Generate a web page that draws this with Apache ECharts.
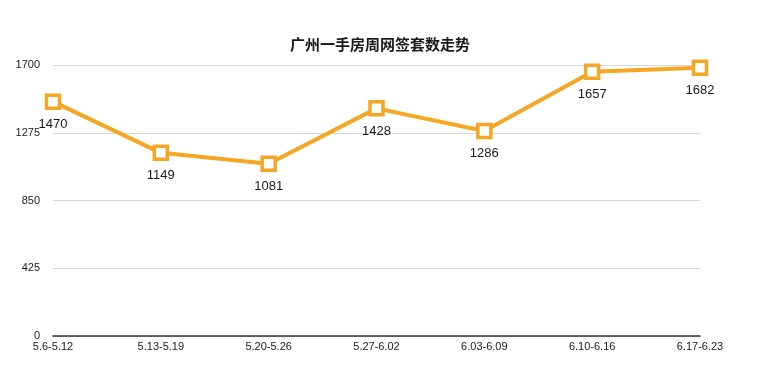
<!DOCTYPE html>
<html><head><meta charset="utf-8">
<script src="https://cdn.jsdelivr.net/npm/echarts@6/dist/echarts.min.js"></script>
<style>html,body{margin:0;padding:0;background:#fff}#c{width:768px;height:392px}</style>
</head><body><div id="c"></div>
<script>
const categories = ['5.6-5.12','5.13-5.19','5.20-5.26','5.27-6.02','6.03-6.09','6.10-6.16','6.17-6.23'];
const values = [1470,1149,1081,1428,1286,1657,1682];
const titleText = '广州一手房周网签套数走势';
const chart = echarts.init(document.getElementById('c'));
chart.setOption({
  backgroundColor:'#fff',
  animation:false,
  title:{text:titleText,left:285,top:32,textStyle:{fontSize:15,fontWeight:'bold',color:'#1a1a1a',fontFamily:'Noto Sans CJK SC'}},
  grid:{left:53,right:68,top:65,bottom:56},
  xAxis:{type:'category',data:categories,boundaryGap:false,
    axisLine:{lineStyle:{color:'#333',width:1.5}},axisTick:{show:false},
    axisLabel:{color:'#1a1a1a',fontSize:11,margin:5,fontFamily:'Liberation Sans',interval:0}},
  yAxis:{type:'value',min:0,max:1700,interval:425,
    axisLine:{show:false},axisTick:{show:false},
    splitLine:{lineStyle:{color:'#d6d6d6',width:1}},
    axisLabel:{color:'#1a1a1a',fontSize:11,margin:13,fontFamily:'Liberation Sans',formatter:v=>String(v)}},
  series:[{type:'line',data:values,symbol:'rect',symbolSize:13,
    lineStyle:{color:'#F5A623',width:4},
    itemStyle:{color:'#fff',borderColor:'#F5A623',borderWidth:3.5},
    label:{show:true,position:'bottom',distance:8,color:'#1a1a1a',fontSize:13,fontFamily:'Liberation Sans'}}]
});
</script></body></html>
